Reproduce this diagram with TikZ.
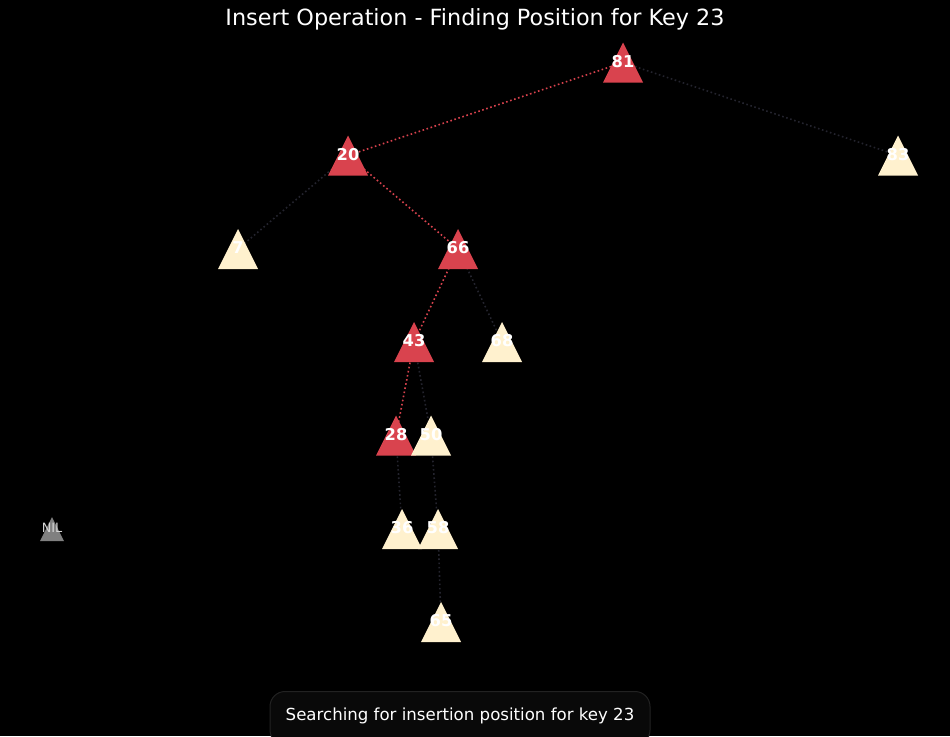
\documentclass[tikz,border=0pt]{standalone}
\usepackage{fontspec}
\setmainfont{DejaVu Sans}
\usetikzlibrary{calc}

\definecolor{pathred}{RGB}{217,67,78}
\definecolor{cream}{RGB}{255,241,206}
\definecolor{nilgray}{RGB}{128,128,128}
\definecolor{niltext}{RGB}{214,214,214}
\definecolor{edgedark}{RGB}{36,36,46}
\definecolor{boxfill}{RGB}{9,9,9}
\definecolor{boxline}{RGB}{34,34,34}

\pgfdeclarelayer{canvas}
\pgfdeclarelayer{edges}
\pgfsetlayers{canvas,edges,main}

\tikzset{
  % triangular key marker, the label sits at the middle of its height
  keytri/.style={
    shape=rectangle, inner sep=0pt, minimum width=40pt, minimum height=40pt,
    draw, draw opacity=0, text=white, text depth=3pt,
    font=\fontsize{16.3}{19}\selectfont\bfseries,
    path picture={\fill[#1] (path picture bounding box.south west)
        -- (path picture bounding box.north)
        -- (path picture bounding box.south east) -- cycle;}},
  niltri/.style={
    shape=rectangle, inner sep=0pt, minimum width=24pt, minimum height=24pt,
    draw, draw opacity=0, text=niltext, text depth=2pt,
    font=\fontsize{12.8}{15}\selectfont,
    path picture={\fill[nilgray] (path picture bounding box.south west)
        -- (path picture bounding box.north)
        -- (path picture bounding box.south east) -- cycle;}},
  searchedge/.style={draw=pathred, line width=1.6pt, dash pattern=on 1.6pt off 2.6pt},
  treeedge/.style={draw=edgedark, line width=1.6pt, dash pattern=on 1.6pt off 2.6pt},
  titletext/.style={text=white, font=\fontsize{22.3}{26}\selectfont},
  statusbox/.style={draw=boxline, line width=1pt, fill=boxfill, rounded corners=15pt},
  statustext/.style={text=white, font=\fontsize{16.6}{19}\selectfont}
}

\begin{document}
\begin{tikzpicture}[x=1pt,y=-1pt]
\begin{pgfonlayer}{canvas}
  \fill[black] (0,0) rectangle (950,736);
\end{pgfonlayer}
\useasboundingbox (0,0) rectangle (950,736);

\node[titletext] (title) at (475,19) {Insert Operation - Finding Position for Key 23};

% tree keys
\node[keytri=pathred] (n81) at (623,62.5) {81};
\node[keytri=pathred] (n20) at (348,155.5) {20};
\node[keytri=cream]   (n83) at (898,155.5) {83};
\node[keytri=cream]   (n7)  at (238,249) {7};
\node[keytri=pathred] (n66) at (458,249) {66};
\node[keytri=pathred] (n43) at (414,342) {43};
\node[keytri=cream]   (n68) at (502,342) {68};
\node[keytri=pathred] (n28) at (396,435.5) {28};
\node[keytri=cream]   (n50) at (431,435.5) {50};
\node[keytri=cream]   (n36) at (402,529) {36};
\node[keytri=cream]   (n58) at (438,529) {58};
\node[keytri=cream]   (n65) at (441,622) {65};
\node[niltri]         (nil) at (52,529) {NIL};

% connectors, kept underneath the markers
\begin{pgfonlayer}{edges}
  \draw[searchedge] (n81.center) -- (n20.center);
  \draw[searchedge] (n20.center) -- (n66.center);
  \draw[searchedge] (n66.center) -- (n43.center);
  \draw[searchedge] (n43.center) -- (n28.center);
  \draw[treeedge] (n81.center) -- (n83.center);
  \draw[treeedge] (n20.center) -- (n7.center);
  \draw[treeedge] (n66.center) -- (n68.center);
  \draw[treeedge] (n43.center) -- (n50.center);
  \draw[treeedge] (n28.center) -- (n36.center);
  \draw[treeedge] (n50.center) -- (n58.center);
  \draw[treeedge] (n58.center) -- (n65.center);
\end{pgfonlayer}

% status message
\draw[statusbox] (270,691.5) rectangle (650,745);
\node[statustext] (status) at (460,716) {Searching for insertion position for key 23};
\end{tikzpicture}
\end{document}
